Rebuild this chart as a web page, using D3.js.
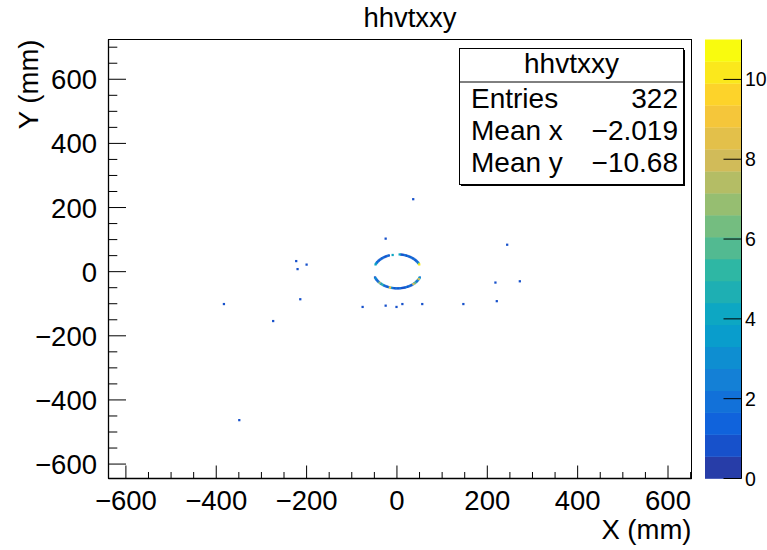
<!DOCTYPE html>
<html><head><meta charset="utf-8">
<script src="https://cdn.jsdelivr.net/npm/d3@7"></script>
<style>
html,body{margin:0;padding:0;background:#fff;}
svg text{font-family:"Liberation Sans",Arial,Helvetica,sans-serif;fill:#000;}
</style></head><body>
<svg id="c" width="767" height="550"></svg>
<script>
// Hits on the ring around the beam pipe: bin centres (mm) and entries per bin
const ringX = [
  49.4, 48.2, 46.9, 45.5, 43.9, 42.2, 40.4, 38.5, 36.5, 34.4, 32.2, 29.9, 27.5, 25.1, 22.6, 20.0, 17.4, 14.7, 12.0, 9.3, 6.0,
  -9.5, -18.0, -20.6, -23.1, -25.5, -27.9, -30.2, -32.4, -34.5, -36.5, -38.4, -40.2, -41.9, -43.5, -44.9, -46.2, -47.4,
  50.5, 49.4, 48.2, 46.9, 45.5, 43.9, 42.2, 40.4, 38.5, 36.5, 34.4, 32.2, 29.9, 27.5, 25.1, 22.6, 20.0, 17.4, 14.7, 12.0,
  9.3, 6.5, 3.8, 1.0, -1.8, -4.5, -7.3, -10.0, -12.7, -15.4, -18.0, -20.6, -23.1, -25.5, -27.9, -30.2, -32.4, -34.5,
  -36.5, -38.4, -40.2, -41.9, -43.5, -44.9, -46.2, -47.4, -48.5
];
const ringY = [
  22.6, 25.1, 27.5, 29.9, 32.2, 34.4, 36.5, 38.5, 40.4, 42.2, 43.9, 45.5, 46.9, 48.2, 49.4, 50.5, 51.4, 52.2, 52.8, 53.3, 53.7,
  52.0, 50.5, 49.4, 48.2, 46.9, 45.5, 43.9, 42.2, 40.4, 38.5, 36.5, 34.4, 32.2, 29.9, 27.5, 25.1, 22.6,
  -18.0, -20.6, -23.1, -25.5, -27.9, -30.2, -32.4, -34.5, -36.5, -38.4, -40.2, -41.9, -43.5, -44.9, -46.2, -47.4, -48.5, -49.4, -50.2, -50.8,
  -51.3, -51.7, -51.9, -52.0, -51.9, -51.7, -51.3, -50.8, -50.2, -49.4, -48.5, -47.4, -46.2, -44.9, -43.5, -41.9, -40.2, -38.4,
  -36.5, -34.5, -32.4, -30.2, -27.9, -25.5, -23.1, -20.6, -18.0
];
const ringN = [
  10, 5, 2, 1, 2, 1, 1, 2, 1, 1, 2, 1, 1, 2, 1, 1, 2, 1, 1, 1, 4,
  4, 1, 2, 1, 1, 1, 2, 1, 1, 2, 1, 1, 2, 1, 2, 3, 4,
  2, 4, 8, 3, 2, 1, 2, 6, 2, 8, 2, 1, 1, 2, 1, 1, 2, 1, 1, 1,
  1, 2, 1, 1, 2, 1, 1, 2, 3, 9, 2, 1, 1, 2, 1, 2, 5, 2,
  3, 7, 2, 1, 2, 1, 2, 3, 1
];
// Isolated hits away from the ring
const strayX = [36, -25, 244, -223, -220, -200, -214, -383, -274, -76, -25, -1, 12, 56, 147, 218, 272, 221, -349];
const strayY = [226, 103, 84, 33, 8, 22, -86, -101, -154, -110, -106, -110, -101, -101, -101, -34, -30, -92, -463];
const strayN = [1, 1, 1, 1, 1, 1, 1, 1, 1, 1, 1, 1, 1, 1, 1, 1, 1, 1, 1];

const xTicks = [-600, -400, -200, 0, 200, 400, 600];
const yTicks = [-600, -400, -200, 0, 200, 400, 600];
const zTicks = [0, 2, 4, 6, 8, 10];
const histName = "hhvtxxy";
const statLabels = ["Entries", "Mean x", "Mean y"];
const statValues = ["322", "\u22122.019", "\u221210.68"];
const xTitle = "X (mm)";
const yTitle = "Y (mm)";

// histogram binning and z range
const binW = 5, binH = 7;
const zMax = 11, nContours = 20;

// frame
const F = {l: 108.5, r: 691.5, t: 39.5, b: 478.5};
const x = d3.scaleLinear().domain([-638.5, 652]).range([F.l, F.r]);
const y = d3.scaleLinear().domain([-645, 724]).range([F.b, F.t]);

// kBird palette, 255 colours
const st = [0, .125, .25, .375, .5, .625, .75, .875, 1];
const pr = [0.2082, 0.0592, 0.0780, 0.0232, 0.1802, 0.5301, 0.8186, 0.9956, 0.9764];
const pg = [0.1664, 0.3599, 0.5041, 0.6419, 0.7178, 0.7492, 0.7328, 0.7862, 0.9832];
const pb = [0.5293, 0.8684, 0.8385, 0.7914, 0.6425, 0.4662, 0.3499, 0.1968, 0.0539];
const pal = d3.range(255).map(k => {
  const t = k / 254;
  const c = d3.scaleLinear().domain(st);
  const r = c.copy().range(pr)(t), g = c.copy().range(pg)(t), b = c.copy().range(pb)(t);
  return d3.rgb(r * 255, g * 255, b * 255).formatHex();
});
const bandColor = i => pal[Math.floor((i + 0.99) * 255 / nContours)];
const cellColor = n => bandColor(Math.min(nContours - 1, Math.floor(0.01 + n * nContours / zMax)));

const svg = d3.select("#c");
svg.append("rect").attr("width", 767).attr("height", 550).attr("fill", "#fff");

// title
svg.append("text").attr("x", 410).attr("y", 27).attr("text-anchor", "middle")
  .attr("font-size", 27.5).text(histName);

// cells
const cells = ringX.map((v, i) => ({x: v, y: ringY[i], n: ringN[i]}))
  .concat(strayX.map((v, i) => ({x: v, y: strayY[i], n: strayN[i]})))
  .sort((a, b) => a.n - b.n);
svg.append("g").selectAll("rect").data(cells).join("rect")
  .attr("x", d => x(d.x - binW / 2))
  .attr("y", d => y(d.y + binH / 2))
  .attr("width", d => x(d.x + binW / 2) - x(d.x - binW / 2))
  .attr("height", d => y(d.y - binH / 2) - y(d.y + binH / 2))
  .attr("fill", d => cellColor(d.n));

// frame
svg.append("rect").attr("x", F.l).attr("y", F.t).attr("width", F.r - F.l).attr("height", F.b - F.t)
  .attr("fill", "none").attr("stroke", "#000").attr("stroke-width", 1);

const ax = svg.append("g").attr("stroke", "#000").attr("stroke-width", 1);
ax.append("line").attr("x1", F.l).attr("x2", F.r).attr("y1", F.b).attr("y2", F.b).attr("stroke-width", 1.6);
ax.append("line").attr("x1", F.l).attr("x2", F.l).attr("y1", F.t).attr("y2", F.b).attr("stroke-width", 1.3);

// x ticks
const xMinor = d3.range(-600, 651, 50).filter(v => v % 200 !== 0);
ax.selectAll(".xM").data(xTicks).join("line")
  .attr("x1", d => x(d)).attr("x2", d => x(d)).attr("y1", F.b).attr("y2", F.b - 13);
ax.selectAll(".xm").data(xMinor).join("line")
  .attr("x1", d => x(d)).attr("x2", d => x(d)).attr("y1", F.b).attr("y2", F.b - 6.5);
// y ticks
const yMinor = d3.range(-600, 701, 50).filter(v => v % 200 !== 0);
ax.selectAll(".yM").data(yTicks).join("line")
  .attr("y1", d => y(d)).attr("y2", d => y(d)).attr("x1", F.l).attr("x2", F.l + 17.5);
ax.selectAll(".ym").data(yMinor).join("line")
  .attr("y1", d => y(d)).attr("y2", d => y(d)).attr("x1", F.l).attr("x2", F.l + 8.8);

const fmt = d3.format("d");
svg.append("g").selectAll("text").data(xTicks).join("text")
  .attr("x", d => x(d)).attr("y", 510).attr("text-anchor", "middle")
  .attr("font-size", 27.5).text(d => fmt(d));
svg.append("g").selectAll("text").data(yTicks).join("text")
  .attr("x", 97).attr("y", d => y(d) + 10).attr("text-anchor", "end")
  .attr("font-size", 27.5).text(d => fmt(d));

// axis titles
svg.append("text").attr("x", F.r).attr("y", 539).attr("text-anchor", "end")
  .attr("font-size", 27.5).text(xTitle);
svg.append("text").attr("transform", `translate(38,${F.t}) rotate(-90)`)
  .attr("text-anchor", "end").attr("font-size", 27.5).text(yTitle);

// colour bar
const CB = {l: 705, r: 741.5};
const z = d3.scaleLinear().domain([0, zMax]).range([F.b, F.t]);
const bands = d3.range(nContours);
svg.append("g").selectAll("rect").data(bands).join("rect")
  .attr("x", CB.l).attr("width", CB.r - CB.l)
  .attr("y", i => z((i + 1) * zMax / nContours))
  .attr("height", i => z(i * zMax / nContours) - z((i + 1) * zMax / nContours) + 0.3)
  .attr("fill", i => bandColor(i));
const zax = svg.append("g").attr("stroke", "#000").attr("stroke-width", 1);
zax.append("line").attr("x1", CB.r).attr("x2", CB.r).attr("y1", F.t).attr("y2", F.b);
zax.selectAll(".zt").data(zTicks).join("line")
  .attr("x1", CB.r).attr("x2", CB.r - 18).attr("y1", d => z(d)).attr("y2", d => z(d));
svg.append("g").selectAll("text").data(zTicks).join("text")
  .attr("x", 745).attr("y", d => z(d) + 7).attr("font-size", 19.5).text(d => fmt(d));

// statistics box
const S = {l: 459.5, r: 683.5, t: 48.5, b: 184.5, sep: 82};
const sb = svg.append("g");
sb.append("rect").attr("x", S.l + 1.5).attr("y", S.t + 1.5).attr("width", S.r - S.l).attr("height", S.b - S.t)
  .attr("fill", "#000");
sb.append("rect").attr("x", S.l).attr("y", S.t).attr("width", S.r - S.l).attr("height", S.b - S.t)
  .attr("fill", "#fff").attr("stroke", "#000").attr("stroke-width", 1);
sb.append("line").attr("x1", S.l).attr("x2", S.r).attr("y1", S.sep).attr("y2", S.sep)
  .attr("stroke", "#000").attr("stroke-width", 1);
sb.append("text").attr("x", (S.l + S.r) / 2).attr("y", 73).attr("text-anchor", "middle")
  .attr("font-size", 28).text(histName);
statLabels.forEach((lab, i) => {
  const by = 108 + i * 32;
  sb.append("text").attr("x", 471).attr("y", by).attr("font-size", 28).text(lab);
  sb.append("text").attr("x", 678).attr("y", by).attr("text-anchor", "end").attr("font-size", 28).text(statValues[i]);
});
</script>
</body></html>
